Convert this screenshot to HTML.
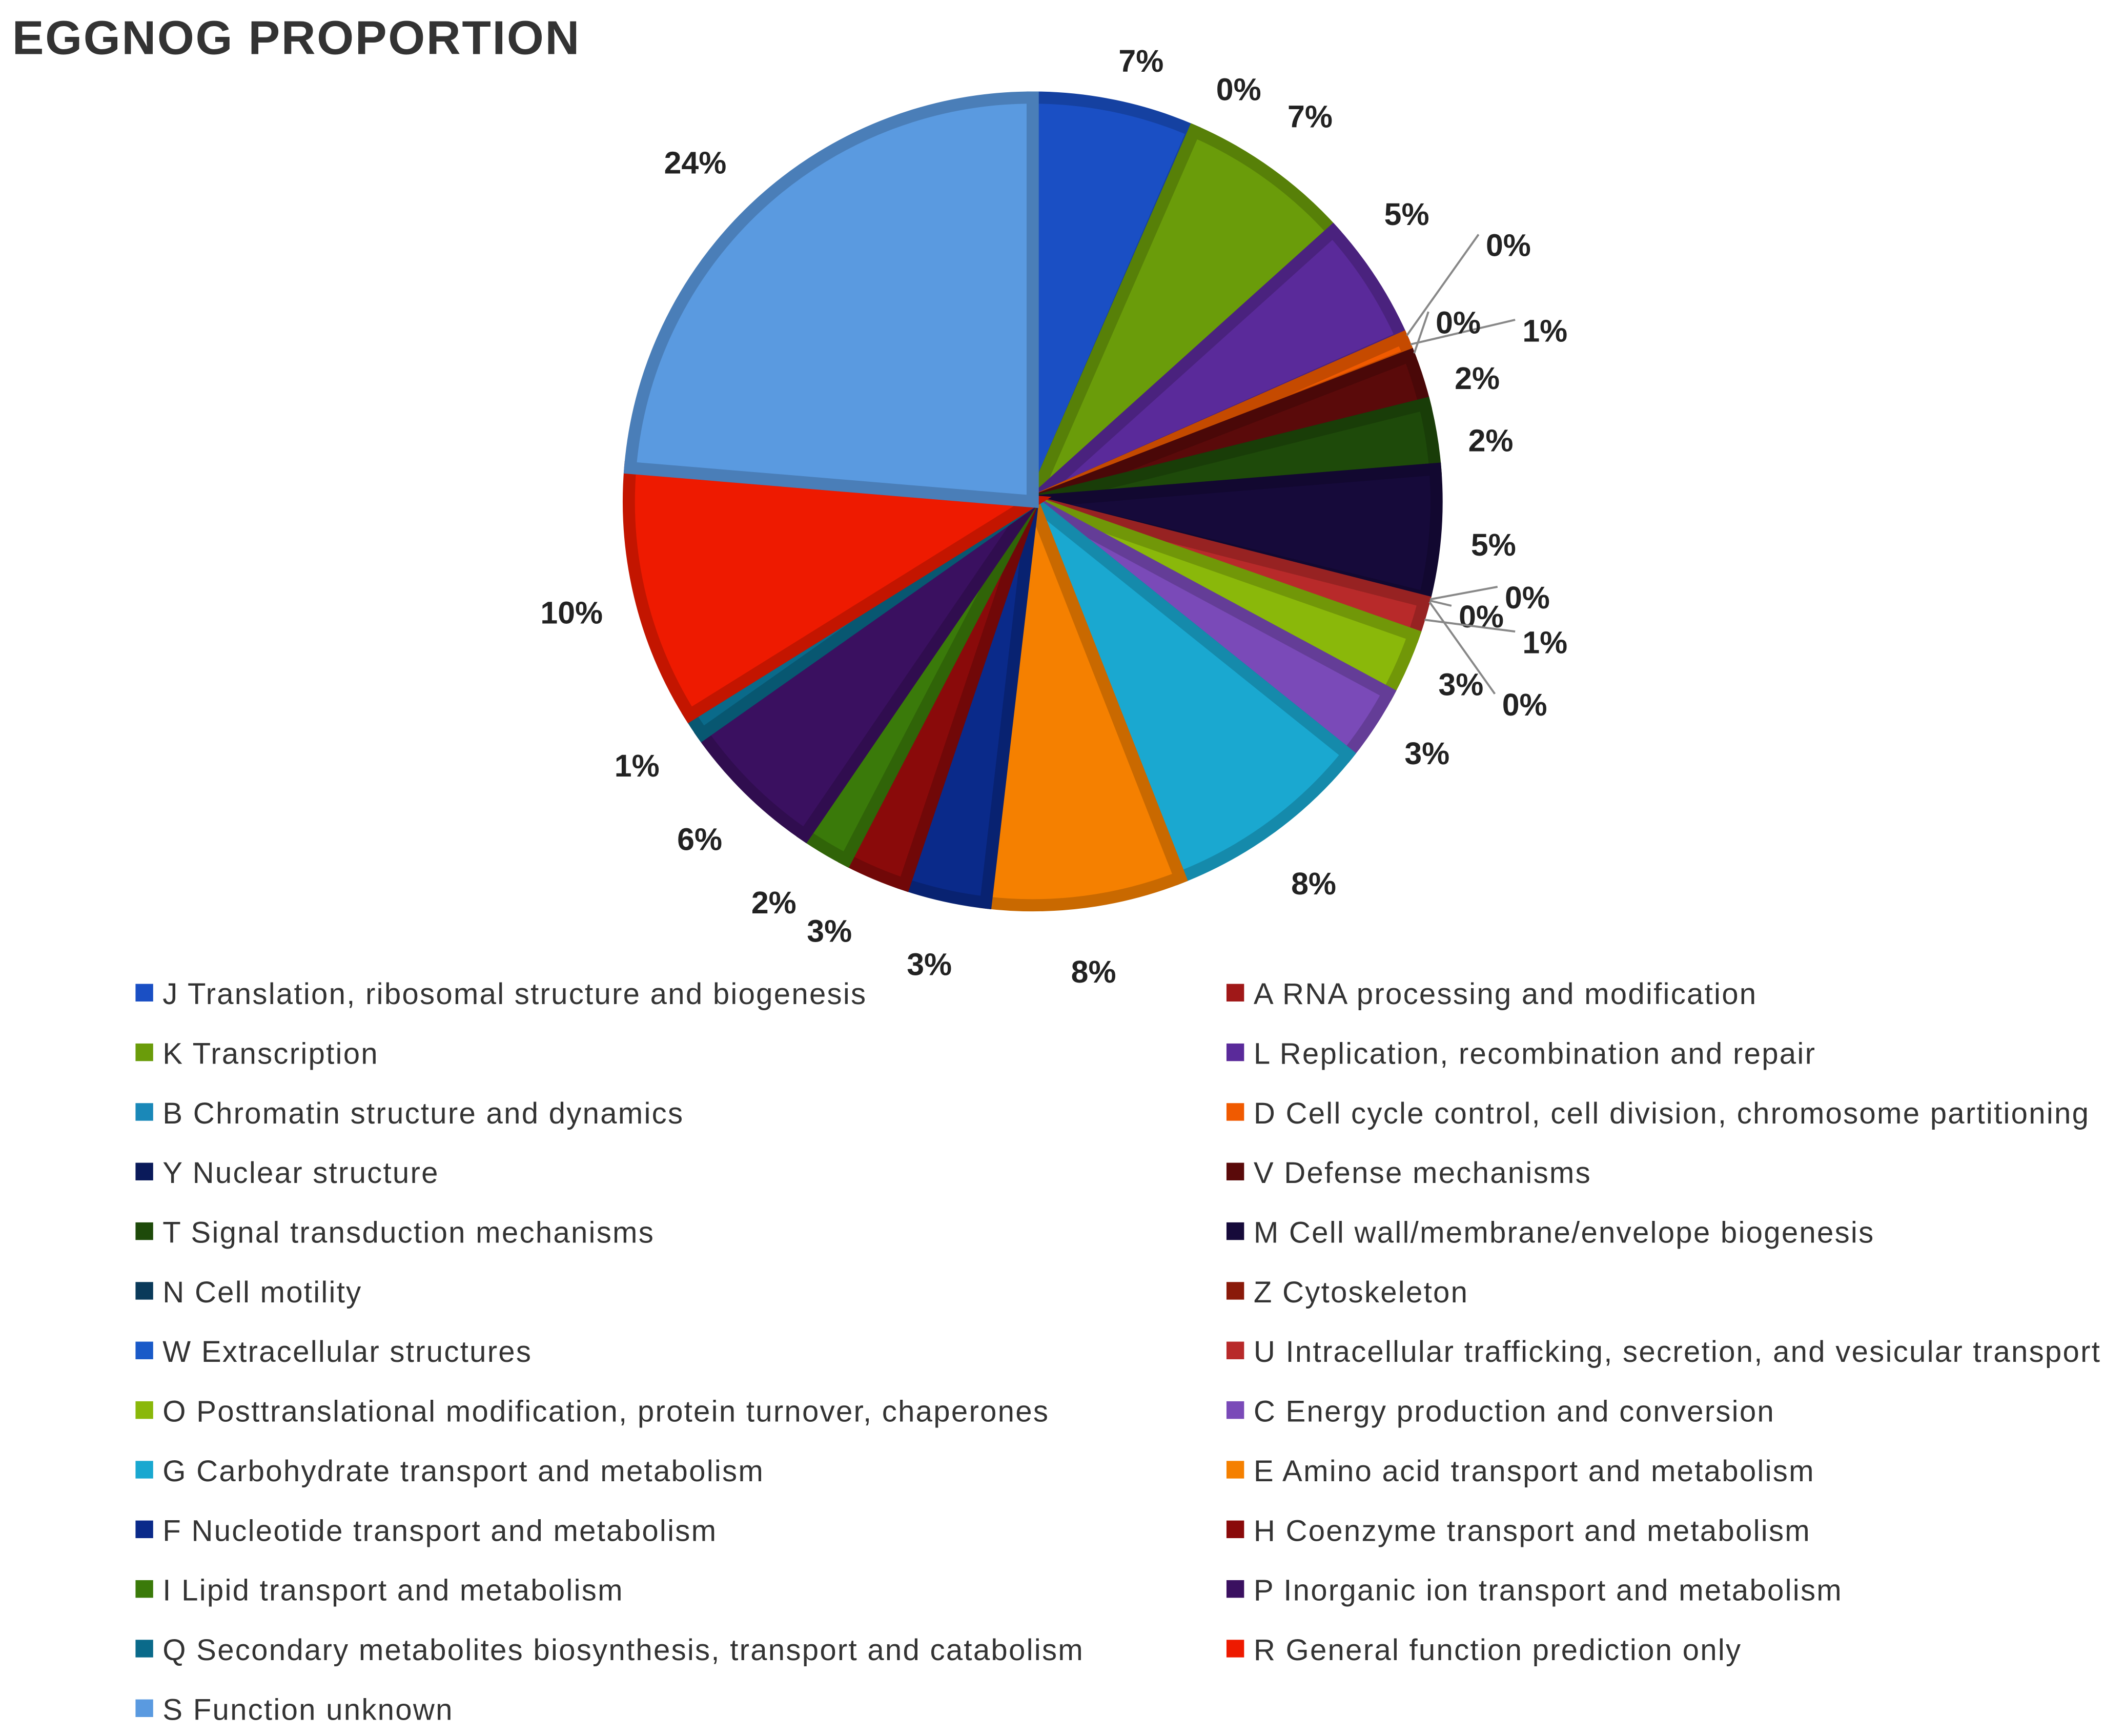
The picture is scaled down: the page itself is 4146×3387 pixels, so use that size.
<!DOCTYPE html>
<html><head><meta charset="utf-8">
<style>
html,body{margin:0;padding:0;background:#fff;}
svg{display:block;}
text{font-family:"Liberation Sans",sans-serif;}
</style></head>
<body>
<svg id="chart" width="4146" height="3387" viewBox="0 0 1568 1281" preserveAspectRatio="none" xmlns="http://www.w3.org/2000/svg">
<rect width="1568" height="1281" fill="#fff"/>
<text x="9" y="40" font-size="35" font-weight="bold" fill="#333" letter-spacing="1">EGGNOG PROPORTION</text>
<g id="slices"></g>
<g id="labels"></g>
<g id="legend"></g>
</svg>
<script>
const categories = ["J","A","K","L","B","D","Y","V","T","M","N","Z","W","U","O","C","G","E","F","H","I","P","Q","R","S"];
const values = [6.5,0.05,6.8,5.0,0.05,0.7,0.05,2.0,2.6,5.1,0.05,0.05,0.05,1.4,2.5,2.9,8.3,7.8,3.3,2.5,1.9,5.7,0.9,10.2,23.7];
const pctLabels = ["7%","0%","7%","5%","0%","1%","0%","2%","2%","5%","0%","0%","0%","1%","3%","3%","8%","8%","3%","3%","2%","6%","1%","10%","24%"];
const legendNames = ["J Translation, ribosomal structure and biogenesis","A RNA processing and modification","K Transcription","L Replication, recombination and repair","B Chromatin structure and dynamics","D Cell cycle control, cell division, chromosome partitioning","Y Nuclear structure","V Defense mechanisms","T Signal transduction mechanisms","M Cell wall/membrane/envelope biogenesis","N Cell motility","Z Cytoskeleton","W Extracellular structures","U Intracellular trafficking, secretion, and vesicular transport","O Posttranslational modification, protein turnover, chaperones","C Energy production and conversion","G Carbohydrate transport and metabolism","E Amino acid transport and metabolism","F Nucleotide transport and metabolism","H Coenzyme transport and metabolism","I Lipid transport and metabolism","P Inorganic ion transport and metabolism","Q Secondary metabolites biosynthesis, transport and catabolism","R General function prediction only","S Function unknown"];
const colors = ["#1a4fc4","#a01818","#6a9c0a","#5a2a9a","#1a88b8","#f05a00","#0a1a5a","#5a0a0a","#1e4a0a","#160a3a","#0a3a5a","#8a1a0a","#1a5ac8","#b82a2a","#8ab80a","#7a4ab8","#1aa8d0","#f58000","#0a2a8a","#8a0a0a","#3a7a0a","#3a1060","#0a6a8a","#ee1a00","#5a9ae0"];
// manual label placement for crowded small slices (layout only)
const labelOverride = {0:[842,45],1:[914,66],3:[1038,158],4:[1113,181],5:[1140,244],6:[1076,238],7:[1090,279],8:[1100,325],9:[1102,402],10:[1127,441],11:[1093,455],12:[1125,520],13:[1140,474],14:[1078,505],15:[1053,556],19:[612,687],20:[571,666],22:[470,565],24:[513,120]};
const noLeader = {1:true,22:true};
const NS="http://www.w3.org/2000/svg";
const cx=762, cy=370, R=298;
function darker(hex,f){const n=parseInt(hex.slice(1),16);const r=(n>>16)&255,g=(n>>8)&255,b=n&255;return `rgb(${Math.round(r*f)},${Math.round(g*f)},${Math.round(b*f)})`;}
function pt(a,r){const t=a*Math.PI/180;return [cx+r*Math.sin(t),cy-r*Math.cos(t)];}
const total=values.reduce((a,b)=>a+b,0);
const sg=document.getElementById('slices'), lg=document.getElementById('labels'), leg=document.getElementById('legend');
let acc=0;
values.forEach((v,i)=>{
  const a0=acc/total*360, a1=(acc+v)/total*360; acc+=v;
  const [x0,y0]=pt(a0,R),[x1,y1]=pt(a1,R);
  const large=(a1-a0)>180?1:0;
  const p=document.createElementNS(NS,'path');
  p.setAttribute('d',`M${cx},${cy} L${x0},${y0} A${R},${R} 0 ${large} 1 ${x1},${y1} Z`);
  p.setAttribute('fill',colors[i]);
  p.setAttribute('stroke',darker(colors[i],0.82));
  p.setAttribute('stroke-width',v>0.5?9:1);
  p.setAttribute('stroke-linejoin','miter');
  
  
  sg.appendChild(p);
  const mid=(a0+a1)/2;
  let pos=labelOverride[i]||pt(mid,350);
  if(labelOverride[i] && v<1.5 && !noLeader[i]){
    const e=pt(mid,R+4);
    const ln=document.createElementNS(NS,'polyline');
    ln.setAttribute('points',`${e[0]},${e[1]} ${pos[0]-22},${pos[1]-8}`);
    ln.setAttribute('fill','none');ln.setAttribute('stroke','#888');ln.setAttribute('stroke-width','1.5');
    
    
    lg.appendChild(ln);
  }
  const t=document.createElementNS(NS,'text');
  t.setAttribute('x',pos[0]);t.setAttribute('y',pos[1]+8);
  t.setAttribute('text-anchor','middle');t.setAttribute('font-size','23');t.setAttribute('font-weight','bold');t.setAttribute('fill','#222');
  t.textContent=pctLabels[i];
  
  
  lg.appendChild(t);
});
legendNames.forEach((name,i)=>{
  const col=i%2, row=Math.floor(i/2);
  const x=col?905:100, y=733+row*44;
  const g=document.createElementNS(NS,'g');
  
  
  const r=document.createElementNS(NS,'rect');
  r.setAttribute('x',x);r.setAttribute('y',y-7);r.setAttribute('width',13);r.setAttribute('height',13);r.setAttribute('fill',colors[i]);
  
  
  const t=document.createElementNS(NS,'text');
  t.setAttribute('x',x+20);t.setAttribute('y',y+8);t.setAttribute('font-size','22');t.setAttribute('fill','#333');
  t.setAttribute('letter-spacing','0.85');
  t.textContent=name;
  
  
  g.appendChild(r);g.appendChild(t);leg.appendChild(g);
});
</script>
</body></html>
